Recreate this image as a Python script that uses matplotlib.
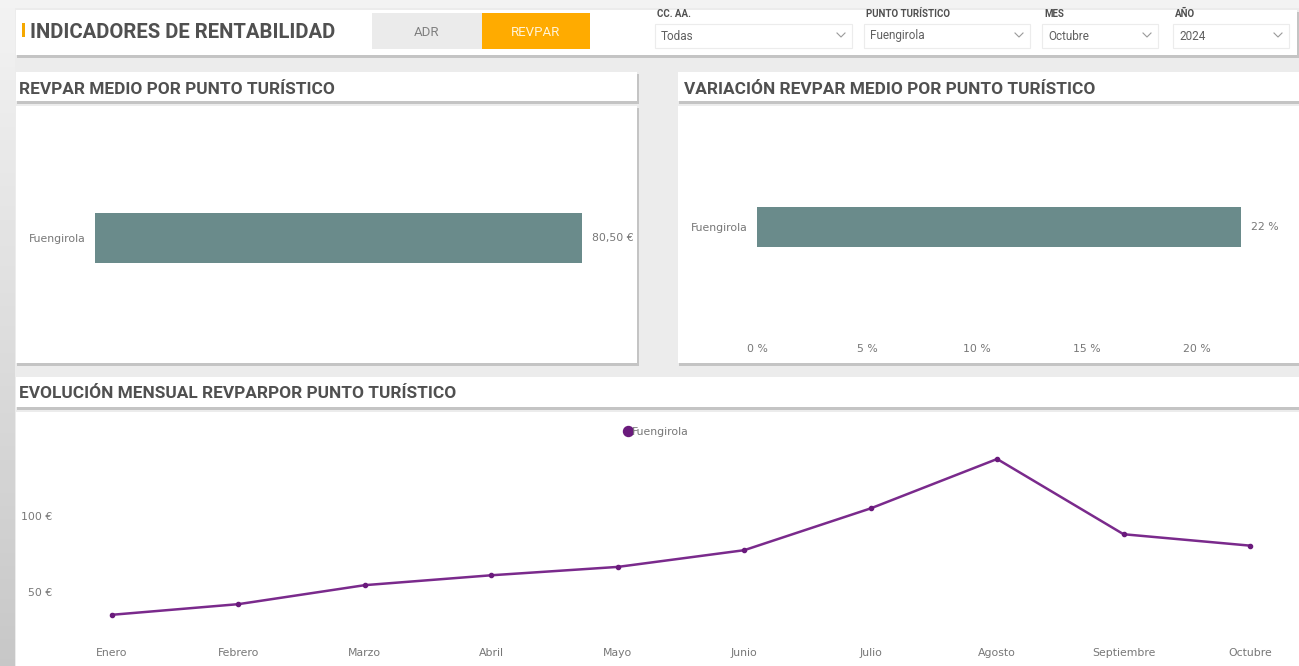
import matplotlib
matplotlib.use("Agg")
import matplotlib.pyplot as plt
import numpy as np
from matplotlib.patches import Rectangle
from matplotlib.lines import Line2D

# datos
meses = ['Enero', 'Febrero', 'Marzo', 'Abril', 'Mayo', 'Junio', 'Julio',
         'Agosto', 'Septiembre', 'Octubre']
revpar_mensual = [35, 42, 54.5, 61, 66.5, 77.5, 105, 137.5, 88, 80.5]
puntos = ['Fuengirola']
revpar_medio = [80.50]
variacion_pct = [22]
var_ticks = [0, 5, 10, 15, 20]
filtros = [('CC. AA.', 'Todas'), ('PUNTO TURÍSTICO', 'Fuengirola'),
           ('MES', 'Octubre'), ('AÑO', '2024')]

W, H = 1299, 666
COND = ['Roboto', 'DejaVu Sans']
plt.rcParams['font.family'] = ['DejaVu Sans']
TXT = '#777777'
TITLE = '#505050'
BAR = '#6a8b8b'
LINE = '#7a2a8c'
FS = 7.8

fig = plt.figure(figsize=(W / 100, H / 100), dpi=100)
fig.patch.set_facecolor('#ececec')


def rect(x0, y0, x1, y1, color, z=1, ec='none', lw=0):
    fig.patches.append(Rectangle((x0 / W, 1 - y1 / H), (x1 - x0) / W, (y1 - y0) / H,
                                 transform=fig.transFigure, facecolor=color,
                                 edgecolor=ec, lw=lw, zorder=z))


def text(x, y, s, **kw):
    fig.text(x / W, 1 - y / H, s, **kw)


def add_ax(x0, y0, x1, y1):
    ax = fig.add_axes([x0 / W, 1 - y1 / H, (x1 - x0) / W, (y1 - y0) / H])
    ax.set_zorder(10)
    ax.patch.set_alpha(0)
    for s in ax.spines.values():
        s.set_visible(False)
    return ax


def card(x0, y0, x1, y1):
    rect(x0 + 1, y0 + 2, x1 + 2, y1 + 3, '#c4c4c4', z=1)
    rect(x0, y0, x1, y1, 'white', z=2)


def chevron(x, y):
    fig.add_artist(Line2D([(x - 4) / W, x / W, (x + 4) / W],
                          [1 - (y - 2) / H, 1 - (y + 2) / H, 1 - (y - 2) / H],
                          transform=fig.transFigure, color='#9a9a9a', lw=0.8, zorder=5))


# franja izquierda con degradado
gax = fig.add_axes([0, 0, 15 / W, 1])
gax.imshow(np.linspace(0.95, 0.78, 100).reshape(-1, 1), cmap='gray', vmin=0, vmax=1,
           aspect='auto', extent=[0, 1, 0, 1], origin='upper')
gax.axis('off')
rect(0, 0, W, 8, '#f3f3f3', z=0)

# cabecera
card(16, 10, 1297, 55)
rect(22, 23, 25, 37, '#f5a800', z=3)
text(30, 32, 'INDICADORES DE RENTABILIDAD', family=COND, fontsize=14.6, weight='bold',
     color=TITLE, va='center', zorder=5)
rect(372, 13, 482, 49, '#ebebeb', z=3)
rect(482, 13, 590, 49, '#ffab00', z=3)
text(427, 32, 'ADR', family=COND, fontsize=9.5, color='#808080', ha='center', va='center', zorder=5)
text(536, 32, 'REVPAR', family=COND, fontsize=9.5, color='#fff3d6', ha='center', va='center', zorder=5)

cajas = [(655, 852), (864, 1030), (1042, 1158), (1173, 1289)]
for (lab, val), (a, b) in zip(filtros, cajas):
    text(a + 2, 14, lab, family=COND, fontsize=7, weight='bold', color='#505050', va='center', zorder=5)
    rect(a, 24, b, 48, 'white', z=3, ec='#ececec', lw=0.8)
    text(a + 6, 36, val, family=COND, fontsize=8.5, color='#606060', va='center', zorder=5)
    chevron(b - 11, 35)

# tarjetas
for (x0, x1) in [(16, 637), (678, 1299)]:
    card(x0, 72, x1, 101)
    card(x0, 106, x1, 363)
card(16, 377, 1299, 407)
card(16, 412, 1299, 670)
text(19, 89, 'REVPAR MEDIO POR PUNTO TURÍSTICO', family=COND, fontsize=12.4, weight='bold',
     color=TITLE, va='center', zorder=5)
text(684, 89, 'VARIACIÓN REVPAR MEDIO POR PUNTO TURÍSTICO', family=COND, fontsize=12.4,
     weight='bold', color=TITLE, va='center', zorder=5)
text(19, 394, 'EVOLUCIÓN MENSUAL REVPARPOR PUNTO TURÍSTICO', family=COND, fontsize=12.4,
     weight='bold', color=TITLE, va='center', zorder=5)

# barra REVPAR medio
ax1 = add_ax(95, 130, 600, 346)
ax1.barh(puntos, revpar_medio, height=0.5, color=BAR)
ax1.set_xlim(0, revpar_medio[0] * 505 / 487)
ax1.set_ylim(-1.08, 1.08)
ax1.set_xticks([])
ax1.tick_params(axis='y', length=0, pad=7, labelsize=FS, labelcolor=TXT)
for y, v in enumerate(revpar_medio):
    ax1.annotate(f'{v:.2f} €'.replace('.', ','), (v, y), xytext=(7, 0),
                 textcoords='offset points', va='center', fontsize=FS, color=TXT)

# barra variación
ax2 = add_ax(757, 120, 1260, 334)
ax2.barh(puntos, variacion_pct, height=0.4, color=BAR)
ax2.set_xlim(0, 503 / 22)
ax2.set_ylim(-1.07, 1.07)
ax2.set_xticks(var_ticks)
ax2.set_xticklabels([f'{t} %' for t in var_ticks])
ax2.tick_params(axis='x', length=0, pad=7, labelsize=FS, labelcolor=TXT)
ax2.tick_params(axis='y', length=0, pad=7, labelsize=FS, labelcolor=TXT)
for y, v in enumerate(variacion_pct):
    ax2.annotate(f'{v} %', (v, y), xytext=(7, 0), textcoords='offset points',
                 va='center', fontsize=FS, color=TXT)

# línea mensual
ax3 = add_ax(112, 440, 1250, 635)
x = np.arange(len(meses))
ax3.plot(x, revpar_mensual, color=LINE, lw=1.8, marker='o', ms=3,
         markerfacecolor='#6a1a7c', markeredgecolor='#6a1a7c', clip_on=False,
         label='Fuengirola')
ax3.set_xlim(0, len(meses) - 1)
ax3.set_ylim(21.7, 150)
ax3.set_xticks(x)
ax3.set_xticklabels(meses)
ax3.set_yticks([50, 100])
ax3.set_yticklabels(['50 €', '100 €'])
ax3.tick_params(axis='x', length=0, pad=9, labelsize=FS, labelcolor=TXT)
ax3.tick_params(axis='y', length=0, pad=43, labelsize=FS, labelcolor=TXT)
leg = ax3.legend(loc='center left', bbox_to_anchor=(619 / W, 1 - 432 / H),
                 bbox_transform=fig.transFigure, frameon=False, fontsize=FS,
                 handlelength=0.6, handletextpad=0.1, borderpad=0,
                 markerscale=2.4)
for h in leg.legend_handles:
    h.set_linestyle('none')
for t in leg.get_texts():
    t.set_color(TXT)

fig.savefig('out.png', dpi=100, facecolor=fig.get_facecolor())
